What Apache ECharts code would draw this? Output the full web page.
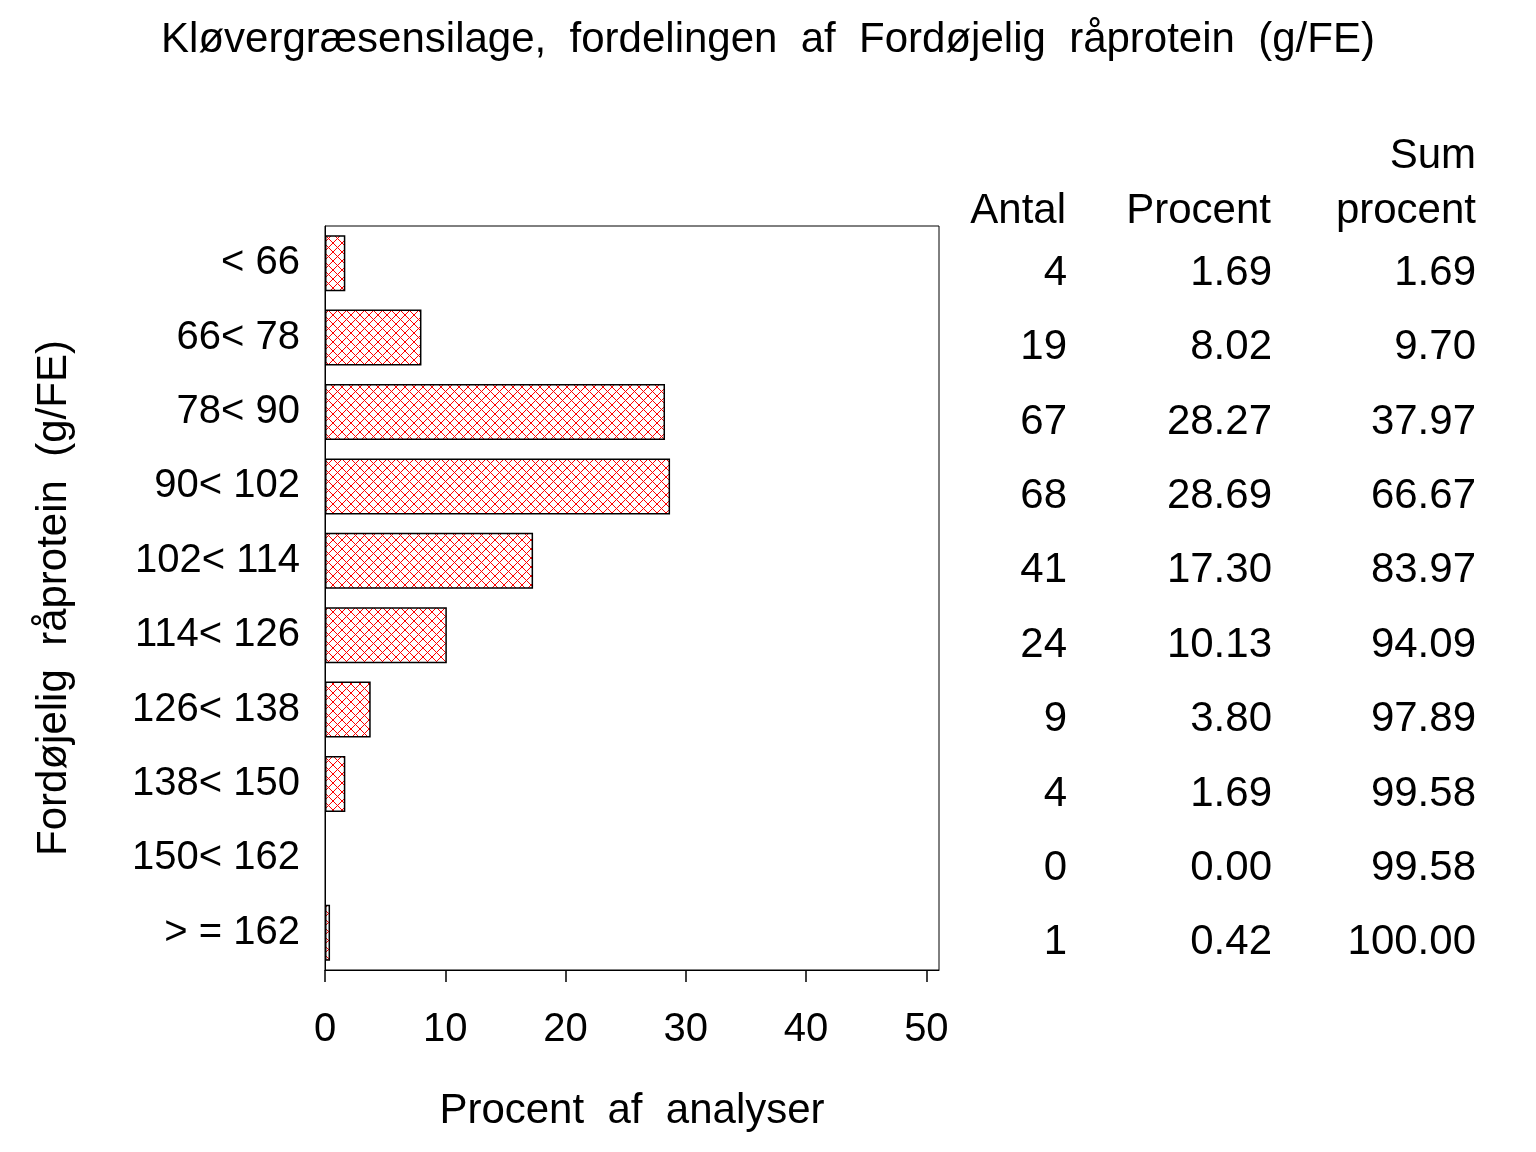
<!DOCTYPE html>
<html>
<head>
<meta charset="utf-8">
<script src="https://cdn.jsdelivr.net/npm/echarts@6/dist/echarts.min.js"></script>
<style>html,body{margin:0;padding:0;background:#fff}#c{width:1536px;height:1152px}</style>
</head>
<body>
<div id="c"></div>
<script>
const categories = ['< 66', '66< 78', '78< 90', '90< 102', '102< 114', '114< 126', '126< 138', '138< 150', '150< 162', '> = 162'];
const antal = [4, 19, 67, 68, 41, 24, 9, 4, 0, 1];
const procent = [1.69, 8.02, 28.27, 28.69, 17.30, 10.13, 3.80, 1.69, 0.00, 0.42];
const sumProcent = [1.69, 9.70, 37.97, 66.67, 83.97, 94.09, 97.89, 99.58, 99.58, 100.00];
const xTicks = [0, 10, 20, 30, 40, 50];

const FONT = 'Liberation Sans, Arial, Helvetica, sans-serif';

// red crosshatch pattern
const tile = document.createElement('canvas');
tile.width = 9; tile.height = 9;
const tc = tile.getContext('2d');
tc.fillStyle = '#fff'; tc.fillRect(0, 0, 9, 9);
tc.fillStyle = '#ff0000';
for (let i = 0; i < 9; i++) { tc.fillRect(i, i, 1, 1); tc.fillRect(i, 8 - i, 1, 1); }

const chart = echarts.init(document.getElementById('c'), null, {renderer: 'canvas'});

function tableAxis(values, fmt, margin) {
  return {
    type: 'category', data: values.map(fmt), inverse: true, position: 'right', gridIndex: 1,
    axisLine: {show: false}, axisTick: {show: false}, splitLine: {show: false},
    axisLabel: {margin: margin, align: 'right', fontSize: 42, color: '#000', fontFamily: FONT}
  };
}

chart.setOption({
  animation: false,
  backgroundColor: '#fff',
  title: {
    text: 'Kløvergræsensilage,  fordelingen  af  Fordøjelig  råprotein  (g/FE)',
    left: 'center', top: 14,
    textStyle: {fontSize: 42, fontWeight: 'normal', color: '#000', fontFamily: FONT}
  },
  grid: [
    {left: 325, top: 226, right: 597, bottom: 182, show: true, borderColor: '#000', borderWidth: 1, outerBoundsMode: 'none'},
    {left: 325, top: 236, right: 597, bottom: 172, show: false, outerBoundsMode: 'none'}
  ],
  xAxis: [{
    type: 'value', min: 0, max: 51.05, interval: 10, gridIndex: 0,
    name: 'Procent  af  analyser', nameLocation: 'middle', nameGap: 120,
    nameTextStyle: {fontSize: 42, color: '#000', fontFamily: FONT},
    axisLine: {show: true, lineStyle: {color: '#000', width: 1}},
    axisTick: {show: true, length: 12, lineStyle: {color: '#000', width: 1.5}, customValues: xTicks},
    axisLabel: {fontSize: 40, color: '#000', fontFamily: FONT, margin: 40, customValues: xTicks},
    splitLine: {show: false}
  }, {
    type: 'value', min: 0, max: 51.05, gridIndex: 1, show: false
  }],
  yAxis: [
    {
      type: 'category', data: categories, inverse: true, gridIndex: 0,
      name: 'Fordøjelig  råprotein  (g/FE)', nameLocation: 'middle', nameGap: 250, nameRotate: 90,
      nameTextStyle: {fontSize: 42, color: '#000', fontFamily: FONT},
      axisLine: {show: true, lineStyle: {color: '#000'}}, axisTick: {show: false},
      axisLabel: {fontSize: 40, color: '#000', fontFamily: FONT, margin: 25}
    },
    tableAxis(antal, v => String(v), 128),
    tableAxis(procent, v => v.toFixed(2), 333),
    tableAxis(sumProcent, v => v.toFixed(2), 537)
  ],
  graphic: [
    {type: 'text', right: 1536 - 1066, top: 190, style: {text: 'Antal', font: '42px ' + FONT, fill: '#000', textAlign: 'right'}},
    {type: 'text', right: 1536 - 1271, top: 190, style: {text: 'Procent', font: '42px ' + FONT, fill: '#000', textAlign: 'right'}},
    {type: 'text', right: 1536 - 1476, top: 135, style: {text: 'Sum', font: '42px ' + FONT, fill: '#000', textAlign: 'right'}},
    {type: 'text', right: 1536 - 1476, top: 190, style: {text: 'procent', font: '42px ' + FONT, fill: '#000', textAlign: 'right'}}
  ],
  series: [{
    type: 'bar', xAxisIndex: 0, yAxisIndex: 0, barWidth: 56,
    data: procent.map(v => v === 0 ? {value: v, itemStyle: {borderWidth: 0}} : v),
    itemStyle: {color: {image: tile, repeat: 'repeat'}, borderColor: '#000', borderWidth: 1.5}
  }]
});
</script>
</body>
</html>
